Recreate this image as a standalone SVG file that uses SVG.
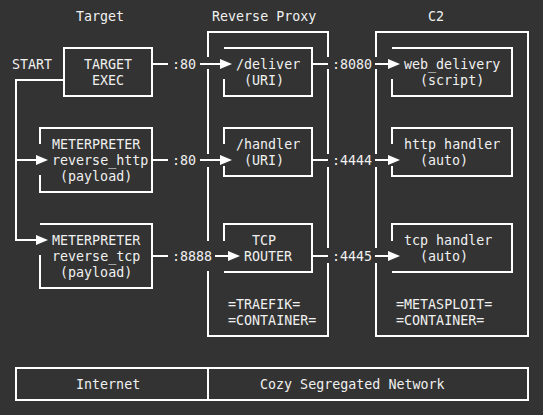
<svg xmlns="http://www.w3.org/2000/svg" width="543" height="415" viewBox="0 0 543 415">
<style>
.t{font-family:"DejaVu Sans Mono","Liberation Mono",monospace;font-size:13.33px;fill:#f0f0f0;white-space:pre}
.l{fill:none;stroke:#fff;stroke-width:2}
.c{fill:none;stroke:#fff;stroke-width:2}
</style>
<defs>
<marker id="ah" markerUnits="userSpaceOnUse" markerWidth="12" markerHeight="10" refX="2" refY="5" orient="auto" viewBox="0 0 12 10"><path d="M0,0L12,5L0,10z" fill="#fff"/></marker>
</defs>
<rect width="543" height="415" fill="#333333"/>

<g id="header-target"><text class="t" x="76" y="20.5">Target</text></g>
<g id="header-proxy"><text class="t" x="212" y="20.5">Reverse Proxy</text></g>
<g id="header-c2"><text class="t" x="428" y="20.5">C2</text></g>

<g id="start"><text class="t" x="12" y="68.5">START</text></g>

<g id="target-exec">
<path class="l" d="M64,48H152V96H64Z"/>
<text class="t" x="84" y="68.5">TARGET</text>
<text class="t" x="92" y="84.5">EXEC</text>
</g>

<g id="reverse-http">
<path class="l" d="M40,144V128H152V192H40V175"/>
<text class="t" x="52" y="148.5">METERPRETER</text>
<text class="t" x="52" y="164.5">reverse_http</text>
<text class="t" x="60" y="180.5">(payload)</text>
</g>

<g id="reverse-tcp">
<path class="l" d="M40,255V288H152V224H40"/>
<text class="t" x="52" y="244.5">METERPRETER</text>
<text class="t" x="52" y="260.5">reverse_tcp</text>
<text class="t" x="60" y="276.5">(payload)</text>
</g>

<g id="reverse-proxy">
<path class="l" d="M208,57V32H328V57M208,69V154M208,167V241M208,271V336H328V263M328,248V167M328,154V69"/>
<text class="t" x="228" y="308.5">=TRAEFIK=</text>
<text class="t" x="228" y="324.5">=CONTAINER=</text>
</g>

<g id="deliver">
<path class="l" d="M224,79V96H312V48H224"/>
<text class="t" x="236" y="68.5">/deliver</text>
<text class="t" x="244" y="84.5">(URI)</text>
</g>

<g id="handler">
<path class="l" d="M224,144V128H312V176H224V166"/>
<text class="t" x="236" y="148.5">/handler</text>
<text class="t" x="244" y="164.5">(URI)</text>
</g>

<g id="tcp-router">
<path class="l" d="M224,241V224H312V272H224"/>
<text class="t" x="252" y="244.5">TCP</text>
<text class="t" x="244" y="260.5">ROUTER</text>
</g>

<g id="c2">
<path class="l" d="M376,57V32H528V336H376V263M376,248V167M376,154V69"/>
<text class="t" x="396" y="308.5">=METASPLOIT=</text>
<text class="t" x="396" y="324.5">=CONTAINER=</text>
</g>

<g id="web-delivery">
<path class="l" d="M392,79V96H512V48H392"/>
<text class="t" x="404" y="68.5">web_delivery</text>
<text class="t" x="420" y="84.5">(script)</text>
</g>

<g id="http-handler">
<path class="l" d="M392,144V128H512V176H392V166"/>
<text class="t" x="404" y="148.5">http handler</text>
<text class="t" x="420" y="164.5">(auto)</text>
</g>

<g id="tcp-handler">
<path class="l" d="M392,241V224H512V272H392"/>
<text class="t" x="404" y="244.5">tcp handler</text>
<text class="t" x="420" y="260.5">(auto)</text>
</g>

<g id="network-bar">
<path class="l" d="M16,368H528V400H16ZM208,368V400"/>
<text class="t" x="76" y="388.5">Internet</text>
<text class="t" x="260" y="388.5">Cozy Segregated Network</text>
</g>

<g id="connectors">
<path class="c" d="M64,80H16V240H38" marker-end="url(#ah)"/>
<path class="c" d="M16,160H38" marker-end="url(#ah)"/>
<path class="c" d="M152,64H168"/>
<path class="c" d="M200,64H222" marker-end="url(#ah)"/>
<path class="c" d="M312,64H328"/>
<path class="c" d="M375,64H390" marker-end="url(#ah)"/>
<path class="c" d="M152,160H168"/>
<path class="c" d="M200,160H222" marker-end="url(#ah)"/>
<path class="c" d="M312,160H328"/>
<path class="c" d="M375,160H390" marker-end="url(#ah)"/>
<path class="c" d="M152,256H168"/>
<path class="c" d="M215,256H230" marker-end="url(#ah)"/>
<path class="c" d="M312,256H328"/>
<path class="c" d="M375,256H390" marker-end="url(#ah)"/>
<text class="t" x="172" y="68.5">:80</text>
<text class="t" x="172" y="164.5">:80</text>
<text class="t" x="172" y="260.5">:8888</text>
<text class="t" x="332" y="68.5">:8080</text>
<text class="t" x="332" y="164.5">:4444</text>
<text class="t" x="332" y="260.5">:4445</text>
</g>
</svg>
